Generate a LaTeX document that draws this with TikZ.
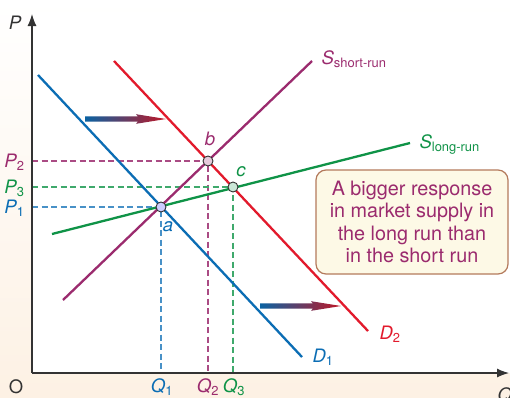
\documentclass[tikz,border=0pt]{standalone}
\usepackage{fontspec}
\setmainfont{TeX Gyre Heros}
\usetikzlibrary{calc,arrows.meta,positioning}

\definecolor{dblue}{HTML}{0B6DB4}
\definecolor{dred}{HTML}{E21A2C}
\definecolor{spurple}{HTML}{9B2B6E}
\definecolor{lgreen}{HTML}{0F9347}
\definecolor{cream}{HTML}{FDF1E4}
\definecolor{notefill}{HTML}{FDF9E6}
\definecolor{noteedge}{HTML}{B47A5C}
\definecolor{axisgray}{HTML}{333333}

\begin{document}
\begin{tikzpicture}[
    x=1pt, y=-1pt,
    >={Latex[length=12pt,width=9pt]},
    curve/.style={line width=2.3pt},
    guide/.style={line width=1.3pt, dash pattern=on 6pt off 3.5pt},
    eqpt/.style={circle, draw=axisgray, line width=0.9pt, inner sep=0pt, minimum size=10pt},
    lab/.style={font=\fontsize{18.5}{20}\selectfont\itshape},
    notebox/.style={draw=noteedge, line width=1.2pt, fill=notefill, rounded corners=10pt,
      minimum width=192pt, minimum height=104pt, align=center, text=spurple,
      font=\fontsize{19.8}{22.3}\selectfont},
  ]
  \useasboundingbox (0,0) rectangle (510,397);

  % Background
  \shade[top color=white, bottom color=cream] (0,0) rectangle (510,397);
  \fill[white] (32,12) rectangle (510,373);

  % Curve ends and equilibria
  \coordinate (O) at (32,373);
  \coordinate (D1a) at (38,75);
  \coordinate (D1b) at (302,357);
  \coordinate (D2a) at (114,61);
  \coordinate (D2b) at (368,331);
  \coordinate (SSa) at (63,300);
  \coordinate (SSb) at (312,61);
  \coordinate (SLa) at (52,234);
  \coordinate (SLb) at (410,143);
  \coordinate (a) at (161,207);
  \coordinate (b) at (208,161);
  \coordinate (c) at (233,187);

  % Guides to the axes
  \draw[guide, draw=dblue!75!white] (O |- a) -- (a) -- (a |- O);
  \draw[guide, draw=spurple!85!white] (O |- b) -- (b) -- (b |- O);
  \draw[guide, draw=lgreen!80!white] (O |- c) -- (c) -- (c |- O);

  % Axes
  \draw[->, axisgray, line width=1.2pt] (O) -- (32,14);
  \draw[->, axisgray, line width=1.2pt] (O) -- (509,373);

  % Demand and supply
  \draw[curve, dblue] (D1a) -- (D1b);
  \draw[curve, dred] (D2a) -- (D2b);
  \draw[curve, lgreen] (SLa) -- (SLb);
  \draw[curve, spurple] (SSa) -- (SSb);

  % Shift arrows
  \foreach \pos in {(85,119),(260,306)}
    \shade[left color=dblue!90!black, right color=dred!85!black, shift={\pos}]
      (0,-2.6) -- (53,-2.6) -- (51,-4.8) -- (81,0) -- (51,4.8) -- (53,2.6)
      -- (0,2.6) -- cycle;

  % Equilibrium points
  \node[eqpt, fill=blue!20!white] (pa) at (a) {};
  \node[eqpt, fill=spurple!25!white] (pb) at (b) {};
  \node[eqpt, fill=lgreen!22!white] (pc) at (c) {};
  \node[lab, dblue] (la) at (168,227) {a};
  \node[lab, spurple] (lb) at (210,139) {b};
  \node[lab, lgreen] (lc) at (241,172) {c};

  % Axis labels
  \node[lab, axisgray] (P) at (15,23) {P};
  \node[font=\fontsize{18.5}{20}\selectfont, axisgray] (orig) at (16,387) {O};
  \node[lab, axisgray, anchor=base west] (Q) at (494,401) {Q};
  \node[lab, spurple, anchor=base east] (P2) at (28,167.5) {P\textsubscript{\upshape 2}};
  \node[lab, lgreen, anchor=base east] (P3) at (28,193.5) {P\textsubscript{\upshape 3}};
  \node[lab, dblue, anchor=base east] (P1) at (28,213.5) {P\textsubscript{\upshape 1}};
  \node[lab, dblue, anchor=base] (Q1) at (162,392) {Q\textsubscript{\upshape 1}};
  \node[lab, spurple, anchor=base] (Q2) at (208,392) {Q\textsubscript{\upshape 2}};
  \node[lab, lgreen, anchor=base] (Q3) at (234,392) {Q\textsubscript{\upshape 3}};

  % Curve labels
  \node[lab, dblue, anchor=base west] (lD1) at (309,362) {D\textsubscript{\upshape 1}};
  \node[lab, dred, anchor=base west] (lD2) at (376,339) {D\textsubscript{\upshape 2}};
  \node[lab, spurple, anchor=base west] (lSS) at (318,64)
    {S\textsubscript{\upshape short-run}};
  \node[lab, lgreen, anchor=base west] (lSL) at (416,148)
    {S\textsubscript{\upshape long-run}};

  % Annotation
  \node[notebox] (note) at (412,222) {A bigger response\\in market supply in\\
    the long run than\\in the short run};
\end{tikzpicture}
\end{document}
